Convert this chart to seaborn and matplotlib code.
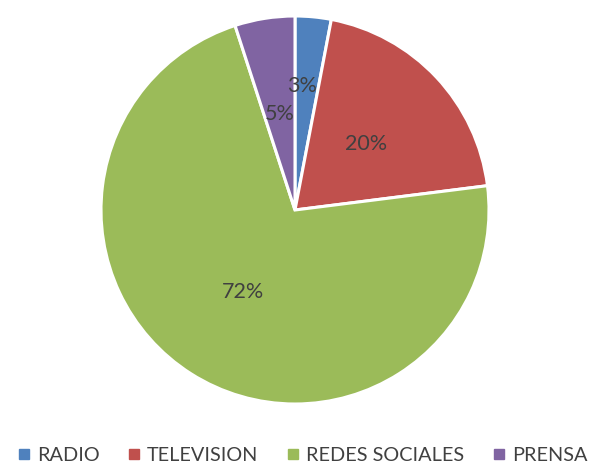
import matplotlib
matplotlib.use("Agg")
import matplotlib.pyplot as plt
import seaborn as sns
from matplotlib.lines import Line2D

categories = ["RADIO", "TELEVISION", "REDES SOCIALES", "PRENSA"]
values = [3, 20, 72, 5]
colors = ["#4F81BD", "#C0504D", "#9BBB59", "#8064A2"]

sns.set_theme(style="white")
plt.rcParams["font.family"] = ["Lato", "DejaVu Sans"]
palette = sns.color_palette(colors)

fig = plt.figure(figsize=(5.91, 4.65), dpi=100)
ax = fig.add_axes([101/591, 1 - 404/465, 388/591, 388/465])
wedges, texts, autotexts = ax.pie(
    values, colors=palette, startangle=90, counterclock=False,
    autopct="%1.0f%%", pctdistance=0.5,
    wedgeprops=dict(edgecolor="white", linewidth=2.2),
    textprops=dict(color="#404040", fontsize=15.5),
)
# Excel nudged the small RADIO label outward
x, y = autotexts[0].get_position()
autotexts[0].set_position((x * 1.25 - 0.02, y * 1.28))
ax.set_xlim(-1, 1)
ax.set_ylim(-1, 1)
ax.set_aspect("equal")

handles = [Line2D([], [], marker="s", linestyle="", markersize=6.5,
                  markerfacecolor=c, markeredgecolor=c) for c in palette]
fig.legend(handles, categories, loc="lower center", ncol=4, frameon=False,
           bbox_to_anchor=(0.512, -0.036), fontsize=14.3, labelcolor="#404040",
           handletextpad=0.35, columnspacing=1.45, handlelength=0.6)

fig.savefig("out.png", dpi=100)
